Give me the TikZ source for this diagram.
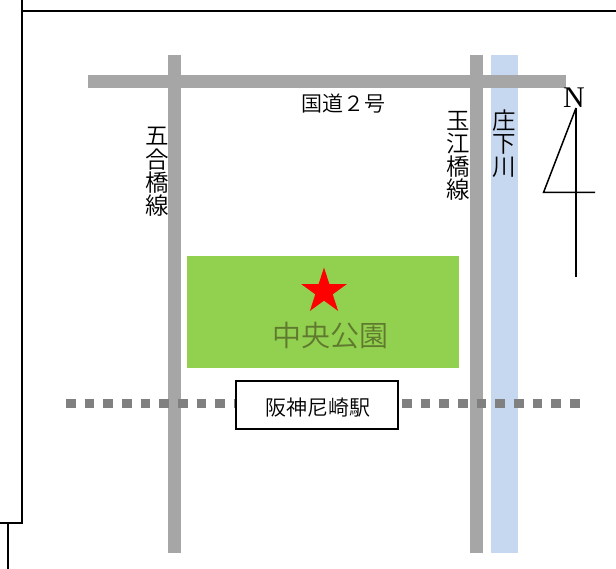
\documentclass[tikz,border=0pt]{standalone}
\usepackage{fontspec}
\setmainfont{Noto Sans CJK JP DemiLight}
\newfontfamily\nfont{Liberation Serif}
\usetikzlibrary{shapes.geometric}
\definecolor{roadgray}{HTML}{A6A6A6}
\definecolor{railgray}{HTML}{808080}
\definecolor{riverblue}{HTML}{C6D8F0}
\definecolor{parkgreen}{HTML}{92D050}
\definecolor{parktext}{HTML}{5F7A2E}
\tikzset{
  frame/.style={draw=black,line width=1.5pt},
  road/.style={fill=roadgray,draw=none},
  vlabel/.style={align=center,inner sep=0pt,font=\fontsize{23.5}{23.2}\selectfont},
}
\begin{document}
\begin{tikzpicture}[x=1pt,y=-1pt]
\useasboundingbox (0,0) rectangle (616,569);
\fill[white] (0,0) rectangle (616,569);
% page frame
\draw[frame] (616,11) -- (22,11);
\draw[frame] (22,0) -- (22,523) -- (0,523);
\draw[frame] (8,523) -- (8,569);
% river and roads
\fill[riverblue] (491,55) rectangle (517.5,553);
\fill[road] (88,75) rectangle (566,88);
\fill[road] (167.5,55) rectangle (181,553);
\fill[road] (470,55) rectangle (483,553);
% park
\fill[parkgreen] (187,256.5) rectangle (459,368);
\node[star,star points=5,star point ratio=2.62,fill=red,minimum size=48pt,inner sep=0pt] (mark) at (324,291.5) {};
\node[inner sep=0pt,text=parktext,font=\fontsize{29}{29}\selectfont] (park) at (330,336) {中央公園};
% railway and station
\draw[railgray,line width=9.5pt,dash pattern=on 9.5pt off 9.17pt] (66,403.5) -- (580,403.5);
\node[draw=black,line width=1.5pt,fill=white,minimum width=162pt,minimum height=48pt,inner sep=0pt] (station) at (317,405) {};
\node[inner sep=0pt,font=\fontsize{21}{21}\selectfont] (stationtext) at (317.5,408) {阪神尼崎駅};
% labels
\node[inner sep=0pt,font=\fontsize{21}{21}\selectfont] (route) at (343,103.5) {国道２号};
\node[vlabel] (gogo) at (157,172) {五\\合\\橋\\線};
\node[vlabel] (tamae) at (458.5,156) {玉\\江\\橋\\線};
\node[vlabel] (river) at (504.5,143.5) {庄\\下\\川};
% north arrow
\node[inner sep=0pt,font=\nfont\fontsize{30}{30}\selectfont] (north) at (574,98) {N};
\coordinate (ntop) at (576,108);
\coordinate (nbot) at (576,277);
\coordinate (nleft) at (543.5,192.5);
\coordinate (nright) at (595,192.5);
\draw[line width=1.5pt] (ntop) -- (nbot);
\draw[line width=1.5pt] (ntop) -- (nleft) -- (nright);
\end{tikzpicture}
\end{document}
